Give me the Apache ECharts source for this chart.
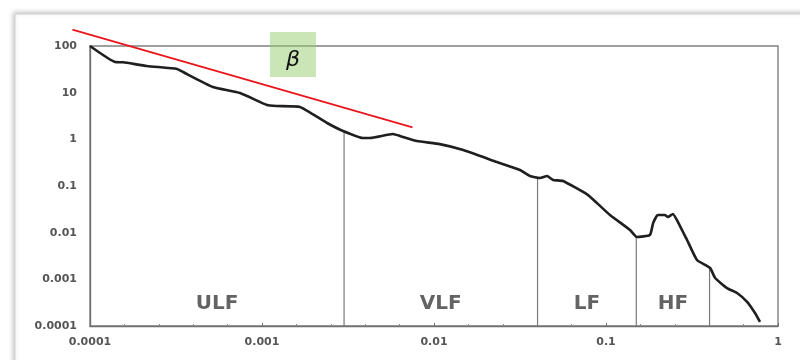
<!DOCTYPE html>
<html>
<head>
<meta charset="utf-8">
<script src="https://cdn.jsdelivr.net/npm/echarts@6/dist/echarts.min.js"></script>
<style>
  html, body { margin: 0; padding: 0; background: #ffffff; }
  #chart { width: 800px; height: 360px; }
</style>
</head>
<body>
<div id="chart"></div>
<script>
// Heart-rate power spectrum on log-log axes (frequency in Hz vs power)
const freq = [1e-4, 1.40e-4, 1.56e-4, 2.14e-4, 3.21e-4, 3.47e-4, 5.19e-4, 7.45e-4,
  1.07e-3, 1.22e-3, 1.66e-3, 2.39e-3, 2.96e-3, 3.86e-3, 4.25e-3, 5.78e-3, 6.34e-3,
  7.96e-3, 1.08e-2, 1.48e-2, 2.32e-2, 3.16e-2, 3.61e-2, 4.13e-2, 4.54e-2, 4.92e-2,
  5.62e-2, 7.76e-2, 8.87e-2, 0.1055, 0.138, 0.151, 0.180, 0.188, 0.200, 0.220, 0.229,
  0.245, 0.262, 0.296, 0.338, 0.403, 0.431, 0.505, 0.578, 0.661, 0.735, 0.786];
const power = [100, 45.4, 44.8, 37.3, 32.2, 27.7, 13.2, 9.8,
  5.44, 5.18, 4.93, 2.24, 1.51, 1.07, 1.07, 1.30, 1.18,
  0.92, 0.79, 0.59, 0.327, 0.22, 0.164, 0.148, 0.164, 0.135,
  0.128, 0.066, 0.043, 0.0239, 0.0114, 0.0081, 0.0089, 0.0161, 0.0239, 0.0239, 0.0217,
  0.0251, 0.0169, 0.00697, 0.0026, 0.00175, 0.00107, 0.00065, 0.00051, 0.00033, 0.00019, 0.000122];

// Band boundaries (Hz) and the spectrum height where each divider meets the curve
const bandEdges = [0.003, 0.04, 0.15, 0.4];
const bandTops = [1.5, 0.15, 0.0082, 0.0018];
// Band names and their frequency ranges
const bandNames = ['ULF', 'VLF', 'LF', 'HF'];
const bandRanges = [[1e-4, 0.003], [0.003, 0.04], [0.04, 0.15], [0.15, 0.4]];
const bandLabelLevel = 3e-4;

// Slope guide (beta) drawn over the spectrum; it runs past the plot frame
const slopeX = [7.9e-5, 7.5e-3];
const slopeY = [225, 1.8];

// Tick labels (one per decade)
const xTickLabels = ['0.0001', '0.001', '0.01', '0.1', '1'];
const yTickLabels = ['0.0001', '0.001', '0.01', '0.1', '1', '10', '100'];

// both axes are laid out in decades: positions are log10 of the values
const lg = v => Math.log10(v);

// plot frame in pixels and the decade ranges it spans
const plot = { left: 90, right: 778, top: 46, bottom: 326 };
const xRange = [-4, 0];
const yRange = [-4, 2];
const pxPerDecX = (plot.right - plot.left) / (xRange[1] - xRange[0]);
const pxPerDecY = (plot.bottom - plot.top) / (yRange[1] - yRange[0]);
// a wider, hidden coordinate system on the same scale, for the overhanging slope line
const xRangeWide = [-4.2, 0];
const yRangeWide = [-4, 2.5];

const chart = echarts.init(document.getElementById('chart'));

const tickFont = { fontFamily: 'DejaVu Sans', fontWeight: 'bold', fontSize: 11, color: '#555' };

const series = [];

// spectrum curve
series.push({
  type: 'line',
  data: freq.map((f, i) => [lg(f), lg(power[i])]),
  showSymbol: false,
  smooth: 0.15,
  lineStyle: { color: '#1f1f1f', width: 2.6 },
  z: 5
});

// band dividers
bandEdges.forEach((f, i) => {
  series.push({
    type: 'line',
    data: [[lg(f), yRange[0]], [lg(f), lg(bandTops[i])]],
    showSymbol: false,
    lineStyle: { color: '#7a7a7a', width: 1.2 },
    z: 3
  });
});

// band labels, centred on each band
series.push({
  type: 'scatter',
  symbolSize: 0,
  data: bandRanges.map((r, i) => ({
    value: [(lg(r[0]) + lg(r[1])) / 2, lg(bandLabelLevel)],
    name: bandNames[i]
  })),
  label: {
    show: true,
    position: 'inside',
    formatter: p => p.name,
    fontFamily: 'DejaVu Sans',
    fontWeight: 'bold',
    fontSize: 20,
    color: '#3c3c3c'
  },
  z: 4
});

// beta slope line
series.push({
  type: 'line',
  xAxisIndex: 1,
  yAxisIndex: 1,
  data: slopeX.map((x, i) => [lg(x), lg(slopeY[i])]),
  showSymbol: false,
  clip: false,
  lineStyle: { color: '#e8161c', width: 1.8 },
  z: 6
});

const hiddenAxis = { type: 'value', show: false, splitLine: { show: false } };

const option = {
  backgroundColor: '#ffffff',
  animation: false,
  grid: [
    {
      left: plot.left, right: 800 - plot.right, top: plot.top, bottom: 360 - plot.bottom,
      show: true,
      borderColor: '#808080',
      borderWidth: 1.4,
      backgroundColor: 'transparent'
    },
    {
      left: plot.left - (xRange[0] - xRangeWide[0]) * pxPerDecX,
      right: 800 - plot.right,
      top: plot.top - (yRangeWide[1] - yRange[1]) * pxPerDecY,
      bottom: 360 - plot.bottom,
      show: false
    }
  ],
  xAxis: [
    {
      type: 'value',
      min: xRange[0],
      max: xRange[1],
      interval: 1,
      axisLine: { show: true, onZero: false, lineStyle: { color: '#707070', width: 1.4 } },
      axisTick: { show: true, inside: true, length: 3, lineStyle: { color: '#707070' } },
      minorTick: { show: true, splitNumber: 5, length: 2, lineStyle: { color: '#888' } },
      splitLine: { show: false },
      axisLabel: Object.assign({
        margin: 11,
        formatter: v => xTickLabels[Math.round(v) - xRange[0]]
      }, tickFont)
    },
    Object.assign({ gridIndex: 1, min: xRangeWide[0], max: xRangeWide[1] }, hiddenAxis)
  ],
  yAxis: [
    {
      type: 'value',
      min: yRange[0],
      max: yRange[1],
      interval: 1,
      axisLine: { show: true, onZero: false, lineStyle: { color: '#707070', width: 1.4 } },
      axisTick: { show: false },
      splitLine: { show: false },
      axisLabel: Object.assign({
        margin: 13,
        formatter: v => yTickLabels[Math.round(v) - yRange[0]]
      }, tickFont)
    },
    Object.assign({ gridIndex: 1, min: yRangeWide[0], max: yRangeWide[1] }, hiddenAxis)
  ],
  graphic: [
    {
      type: 'rect',
      shape: { x: 15, y: 14, width: 800, height: 360 },
      style: {
        fill: '#ffffff',
        stroke: '#d4d4d4',
        lineWidth: 1,
        shadowBlur: 5,
        shadowColor: 'rgba(0,0,0,0.25)',
        shadowOffsetX: -1,
        shadowOffsetY: -1
      },
      z: -10,
      silent: true
    },
    {
      type: 'rect',
      shape: { x: 270, y: 32, width: 46, height: 45 },
      style: { fill: 'rgba(150,205,110,0.5)' },
      z: 20,
      silent: true
    },
    {
      type: 'text',
      x: 293,
      y: 60,
      style: {
        text: 'β',
        fontFamily: 'DejaVu Sans',
        fontStyle: 'italic',
        fontSize: 22,
        fill: '#111',
        align: 'center',
        verticalAlign: 'middle'
      },
      z: 21,
      silent: true
    }
  ],
  series: series
};

chart.setOption(option);
</script>
</body>
</html>
